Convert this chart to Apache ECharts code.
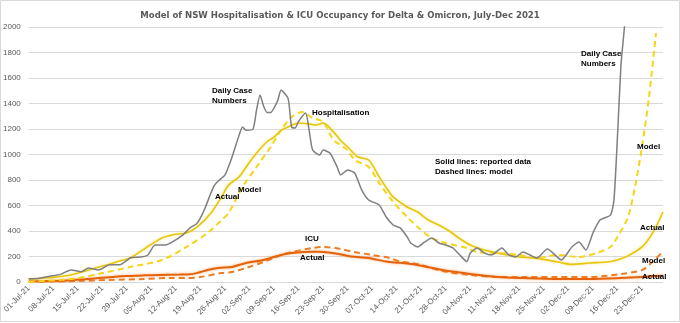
<!DOCTYPE html>
<html><head><meta charset="utf-8">
<script src="https://cdn.jsdelivr.net/npm/echarts@6/dist/echarts.min.js"></script>
<style>html,body{margin:0;padding:0;background:#fff}#c{width:680px;height:323px}</style>
</head><body><div id="c"></div>
<script>
// Weekly tick labels (day index = 7 * position, day 0 = 01-Jul-21)
const tickLabels = ['01-Jul-21','08-Jul-21','15-Jul-21','22-Jul-21','29-Jul-21','05-Aug-21','12-Aug-21','19-Aug-21','26-Aug-21','02-Sep-21','09-Sep-21','16-Sep-21','23-Sep-21','30-Sep-21','07-Oct-21','14-Oct-21','21-Oct-21','28-Oct-21','04-Nov-21','11-Nov-21','18-Nov-21','25-Nov-21','02-Dec-21','09-Dec-21','16-Dec-21','23-Dec-21'];

// Daily case numbers (grey)
const caseDays = [0,3,6,9,12,15,17,20,23,26,29,32,34,36,39,41,44,46,48,50,52,53,54,56,58,60,61,62,64,65,66,67,68,69,71,72,74,75,76,77,79,80,81,83,84,86,88,89,91,93,95,97,100,102,104,106,108,109,111,113,115,117,119,121,123,125,126,128,130,132,135,137,139,141,143,145,148,152,155,157,159,161,163,166,167,168,169,170,171];
const caseVals = [25,30,45,60,95,80,110,95,135,135,190,196,212,290,290,314,370,424,460,560,700,760,790,840,980,1150,1216,1190,1200,1350,1467,1380,1330,1330,1420,1506,1440,1216,1208,1260,1325,1192,1035,996,1035,1010,902,840,878,855,722,643,604,510,447,424,353,306,275,314,345,306,290,267,212,160,227,267,227,212,267,212,196,235,212,188,259,173,275,314,251,384,486,525,643,1137,1700,2000,2400];

// Hospitalisation – actual (yellow solid)
const hospActDays = [0,4,8,12,16,19,23,26,29,33,38,42,45,48,52,55,57,60,62,65,68,70,72,74,77,80,82,84,87,89,91,94,97,100,102,104,108,111,114,117,120,123,126,130,134,140,145,151,155,160,165,168,171,175,178,181];
const hospActVals = [20,30,40,55,85,110,140,165,188,260,345,375,384,431,541,667,760,824,900,1012,1100,1137,1190,1216,1247,1240,1231,1247,1176,1110,1059,980,957,824,740,667,588,549,486,447,400,340,290,251,225,196,185,157,138,149,157,173,205,275,384,549];

// Hospitalisation – model (yellow dashed)
const hospModDays = [0,4,9,14,21,29,38,45,51,55,57,61,65,69,72,75,78,81,84,87,91,93,97,100,104,108,111,115,119,125,128,134,140,145,151,157,162,166,168,171,173,175,177,179];
const hospModVals = [0,8,15,31,70,118,173,275,384,486,541,745,902,1059,1192,1294,1333,1286,1255,1114,1035,957,902,776,627,510,431,345,306,267,235,227,212,188,212,196,227,275,353,510,745,1059,1451,1953];

// ICU – actual (orange solid)
const icuActDays = [0,6,11,16,20,24,28,33,37,43,46,49,51,54,58,62,67,72,75,81,83,88,92,97,102,106,111,118,126,134,141,151,160,169,175,179,181];
const icuActVals = [5,8,12,22,31,40,47,52,55,58,60,78,94,110,118,149,173,212,227,237,237,222,200,188,160,150,133,94,63,39,31,24,24,31,39,47,50];

// ICU – model (orange dashed)
const icuModDays = [0,6,14,23,32,40,45,49,55,58,62,67,72,75,81,84,89,93,98,103,106,111,118,126,134,141,151,160,169,175,178,181];
const icuModVals = [0,3,8,16,22,31,31,39,70,78,110,157,212,235,267,275,259,235,212,188,160,141,86,55,39,39,39,39,63,94,157,240];

const pairs = (d, v) => d.map((x, i) => [x, v[i]]);

const chart = echarts.init(document.getElementById('c'), null, {renderer: 'canvas'});
const annFont = 'bold 8px "Liberation Sans", Arial, sans-serif';
function ann(text, x, y) {
  return {type: 'text', x: x, y: y, z: 100, style: {text: text, font: annFont, fill: '#000', textVerticalAlign: 'middle', lineHeight: 9.5}};
}
chart.setOption({
  animation: false,
  backgroundColor: '#fff',
  title: {
    text: 'Model of NSW Hospitalisation & ICU Occupancy for Delta & Omicron, July-Dec 2021',
    left: 'center', top: 6,
    textStyle: {fontSize: 9.5, fontWeight: 'bold', color: '#595959', fontFamily: '"Liberation Sans Narrow", "DejaVu Sans Condensed", sans-serif'}
  },
  grid: {left: 28, right: 17, top: 27, bottom: 41},
  xAxis: {
    type: 'value', min: 0, max: 181, interval: 7,
    axisLine: {show: false}, axisTick: {show: false}, splitLine: {show: false},
    axisLabel: {
      rotate: 45, margin: 5, fontSize: 8, color: '#595959', showMaxLabel: false,
      fontFamily: '"Liberation Sans Narrow", "Liberation Sans", sans-serif',
      formatter: v => (v % 7 === 0 && tickLabels[v / 7]) ? tickLabels[v / 7] : ''
    }
  },
  yAxis: {
    type: 'value', min: 0, max: 2000, interval: 200,
    axisLine: {show: false}, axisTick: {show: false},
    splitLine: {lineStyle: {color: '#d9d9d9', width: 1}},
    axisLabel: {fontSize: 8, color: '#595959', margin: 8, fontFamily: '"Liberation Sans", sans-serif',
      formatter: v => String(v)}
  },
  series: [
    {type: 'line', name: 'ICU model', data: pairs(icuModDays, icuModVals), smooth: 0.3, showSymbol: false,
     lineStyle: {color: '#EE7B22', width: 2, type: [6, 4]}},
    {type: 'line', name: 'ICU actual', data: pairs(icuActDays, icuActVals), smooth: 0.3, showSymbol: false,
     lineStyle: {color: '#E5620A', width: 2, shadowColor: 'rgba(245,150,70,0.7)', shadowBlur: 3}},
    {type: 'line', name: 'Hosp model', data: pairs(hospModDays, hospModVals), smooth: 0.3, showSymbol: false,
     lineStyle: {color: '#F7D417', width: 2, type: [6, 4]}},
    {type: 'line', name: 'Hosp actual', data: pairs(hospActDays, hospActVals), smooth: 0.3, showSymbol: false,
     lineStyle: {color: '#E6C60E', width: 1.6, shadowColor: 'rgba(250,225,110,0.8)', shadowBlur: 3}},
    {type: 'line', name: 'Daily cases', data: pairs(caseDays, caseVals), smooth: 0.2, showSymbol: false, clip: true,
     lineStyle: {color: '#7F7F7F', width: 1.5}}
  ],
  graphic: [
    {type: 'rect', shape: {x: 0.5, y: 0.5, width: 679, height: 321}, style: {fill: 'none', stroke: '#d9d9d9', lineWidth: 1}, z: 0},
    ann('Daily Case\nNumbers', 212, 96),
    ann('Hospitalisation', 312, 113),
    ann('Model', 238, 190),
    ann('Actual', 215, 197),
    ann('ICU', 305, 239),
    ann('Actual', 300, 258),
    ann('Solid lines: reported data\nDashed lines: model', 435, 167),
    ann('Daily Case\nNumbers', 581, 59),
    ann('Model', 637, 147),
    ann('Actual', 640, 228),
    ann('Model', 642, 261),
    ann('Actual', 642, 277)
  ]
});
</script></body></html>
